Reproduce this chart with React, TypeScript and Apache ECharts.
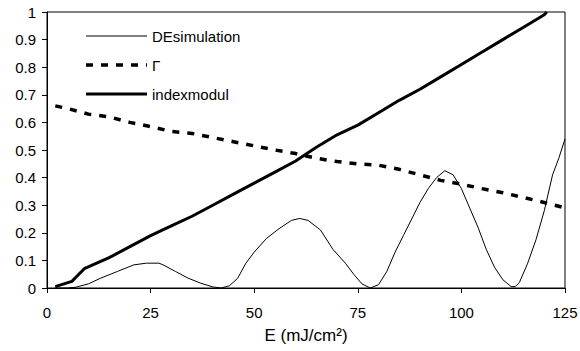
import React, { useEffect, useRef } from "react";
import * as echarts from "echarts";

const xTicks = [0, 25, 50, 75, 100, 125];

const deX = [2, 5, 7, 10, 13, 17, 21, 24, 27, 28, 31, 34, 37, 40, 42, 44, 46, 48, 50, 53, 56, 59, 61, 63, 66, 69, 72, 74, 76, 78, 80, 82, 84, 86, 88, 90, 92, 94, 96, 98, 100, 102, 104, 106, 108, 110, 112, 113, 114, 116, 118, 120, 122, 123.5, 125];
const deY = [0, 0, 0.003, 0.015, 0.036, 0.06, 0.084, 0.09, 0.09, 0.084, 0.06, 0.036, 0.018, 0.004, 0, 0.008, 0.035, 0.09, 0.13, 0.18, 0.215, 0.245, 0.252, 0.245, 0.21, 0.14, 0.09, 0.05, 0.015, 0, 0.012, 0.06, 0.13, 0.19, 0.25, 0.31, 0.36, 0.4, 0.425, 0.41, 0.36, 0.29, 0.22, 0.14, 0.075, 0.03, 0.005, 0.005, 0.02, 0.09, 0.175, 0.28, 0.41, 0.47, 0.54];

const gammaX = [2, 5, 10, 15, 20, 25, 30, 35, 40, 45, 50, 55, 60, 65, 70, 75, 80, 85, 90, 95, 100, 105, 110, 115, 120, 125];
const gammaY = [0.66, 0.65, 0.63, 0.62, 0.6, 0.585, 0.567, 0.56, 0.545, 0.53, 0.515, 0.5, 0.487, 0.47, 0.458, 0.45, 0.445, 0.43, 0.41, 0.39, 0.376, 0.36, 0.345, 0.328, 0.31, 0.29];

const idxX = [2, 6, 9, 15, 20, 25, 30, 35, 40, 45, 50, 55, 60, 65, 70, 75, 80, 85, 90, 95, 100, 105, 110, 115, 120, 120.6];
const idxY = [0.005, 0.024, 0.07, 0.11, 0.15, 0.19, 0.225, 0.26, 0.3, 0.34, 0.38, 0.42, 0.46, 0.51, 0.555, 0.59, 0.635, 0.68, 0.72, 0.765, 0.81, 0.855, 0.9, 0.945, 0.99, 1.0];

const seriesNames = ["DEsimulation", "Γ", "indexmodul"];
const xTitle = "E (mJ/cm²)";

const pairs = (xs: number[], ys: number[]) => xs.map((x, i) => [x, ys[i]]);

const FONT = "'Liberation Sans', Arial, sans-serif";

const legendRows = [
  { y: 36, width: 1, dash: null as number[] | null },
  { y: 65, width: 3.5, dash: [7, 8] },
  { y: 94, width: 3, dash: null as number[] | null },
];

export default function App() {
  const ref = useRef<HTMLDivElement>(null);
  useEffect(() => {
    if (!ref.current) return;
    const chart = echarts.init(ref.current, undefined, { renderer: "svg" });
    const graphic: any[] = [];
    legendRows.forEach((r, i) => {
      graphic.push({
        type: "line",
        shape: { x1: 86, y1: r.y, x2: 147, y2: r.y },
        style: { stroke: "#000", lineWidth: r.width, lineDash: r.dash || undefined },
      });
      graphic.push({
        type: "text",
        x: 152,
        y: r.y,
        style: {
          text: seriesNames[i],
          fill: "#000",
          fontSize: 15,
          fontFamily: FONT,
          verticalAlign: "middle",
          align: "left",
        },
      });
    });
    chart.setOption({
      animation: false,
      backgroundColor: "#fff",
      textStyle: { fontFamily: FONT },
      grid: {
        left: 47,
        right: 15,
        top: 12,
        bottom: 63,
        show: true,
        borderColor: "#000",
        borderWidth: 1,
        backgroundColor: "transparent",
        outerBoundsMode: "none",
        containLabel: false,
      },
      graphic,
      xAxis: {
        type: "value",
        min: xTicks[0],
        max: xTicks[xTicks.length - 1],
        interval: 25,
        name: xTitle,
        nameLocation: "middle",
        nameGap: 47,
        nameTextStyle: { fontFamily: FONT, fontSize: 17, color: "#000", verticalAlign: "middle" },
        axisLine: { show: true, lineStyle: { color: "#000", width: 1 } },
        axisTick: { show: true, inside: false, length: 5, lineStyle: { color: "#000" } },
        axisLabel: { fontFamily: FONT, fontSize: 15, color: "#000", margin: 17 },
        splitLine: { show: false },
      },
      yAxis: {
        type: "value",
        min: 0,
        max: 1,
        interval: 0.1,
        axisLine: { show: true, lineStyle: { color: "#000", width: 1 } },
        axisTick: { show: true, inside: false, length: 5, lineStyle: { color: "#000" } },
        axisLabel: {
          fontFamily: FONT,
          fontSize: 15,
          color: "#000",
          margin: 11,
          formatter: (v: number) => String(Math.round(v * 10) / 10),
        },
        splitLine: { show: false },
      },
      series: [
        {
          name: seriesNames[0],
          type: "line",
          data: pairs(deX, deY),
          symbol: "none",
          lineStyle: { color: "#000", width: 1 },
          itemStyle: { color: "#000" },
        },
        {
          name: seriesNames[1],
          type: "line",
          data: pairs(gammaX, gammaY),
          symbol: "none",
          lineStyle: { color: "#000", width: 3.5, type: [7, 8] },
          itemStyle: { color: "#000" },
        },
        {
          name: seriesNames[2],
          type: "line",
          data: pairs(idxX, idxY),
          symbol: "none",
          lineStyle: { color: "#000", width: 3 },
          itemStyle: { color: "#000" },
        },
      ],
    });
    return () => chart.dispose();
  }, []);
  return <div ref={ref} style={{ width: 580, height: 351, position: "absolute", left: 0, top: 0 }} />;
}
